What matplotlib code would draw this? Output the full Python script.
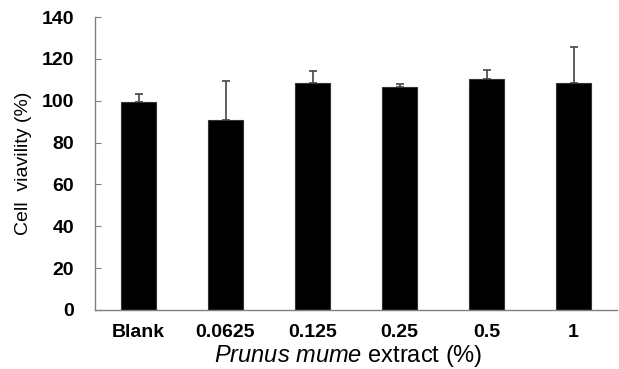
import matplotlib
matplotlib.use('Agg')
import matplotlib.pyplot as plt
import numpy as np

plt.rcParams['font.family'] = ['Liberation Sans', 'DejaVu Sans']
plt.rcParams['mathtext.fontset'] = 'custom'
plt.rcParams['mathtext.it'] = 'Liberation Sans:italic'
plt.rcParams['mathtext.rm'] = 'Liberation Sans'

# data
groups = ['Blank', '0.0625', '0.125', '0.25', '0.5', '1']
viability = [99.6, 90.7, 108.6, 106.7, 110.6, 108.6]
sd = [3.6, 18.5, 5.8, 1.4, 4.0, 17.3]
yticks = [0, 20, 40, 60, 80, 100, 120, 140]

fig = plt.figure(figsize=(6.19, 3.69), dpi=100)
ax = fig.add_axes([95/619, 59/369, 522/619, 293/369])

x = np.arange(len(groups))
ax.bar(x, viability, width=0.4, color='black', edgecolor='#333333', linewidth=0.8, zorder=2)
ax.errorbar(x, viability, yerr=[np.zeros(len(sd)), sd], fmt='none',
            ecolor='#444444', elinewidth=1.2, capsize=3, capthick=1.2, zorder=1)

ax.set_xlim(-0.5, len(groups) - 0.5)
ax.set_ylim(0, 140)
ax.set_yticks(yticks)
ax.set_xticks(x)
ax.set_xticklabels(groups, fontsize=14, fontweight='bold')
ax.set_yticklabels([str(v) for v in yticks], fontsize=14, fontweight='bold')

for s in ['top', 'right']:
    ax.spines[s].set_visible(False)
for s in ['left', 'bottom']:
    ax.spines[s].set_color('#808080')
    ax.spines[s].set_linewidth(1.0)

ax.tick_params(axis='y', direction='in', length=4.5, color='#808080', pad=15)
ax.tick_params(axis='x', length=0, pad=10)

ax.set_ylabel('Cell  viavility (%)', fontsize=14, labelpad=7)
ax.set_xlabel(r'$\it{Prunus\ mume}$ extract (%)', fontsize=17)
ax.xaxis.set_label_coords(0.485, -0.113)

fig.savefig('out.png', dpi=100)
